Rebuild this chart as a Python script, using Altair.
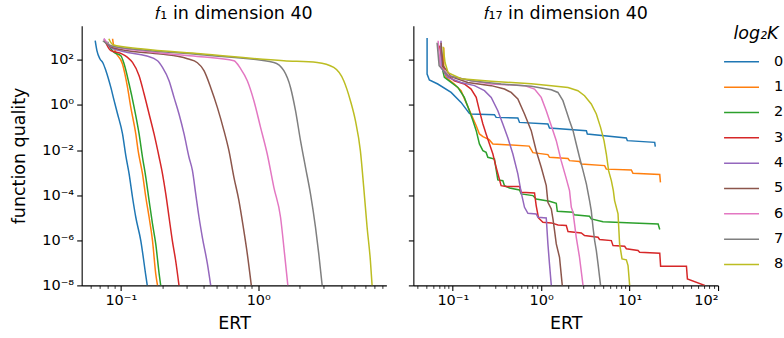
import altair as alt
import pandas as pd

K_LEVELS = ["0", "1", "2", "3", "4", "5", "6", "7", "8"]
COLORS = ["#1f77b4", "#ff7f0e", "#2ca02c", "#d62728", "#9467bd",
          "#8c564b", "#e377c2", "#7f7f7f", "#bcbd22"]

# ---------------- f1 in dimension 40 ----------------
f1_k0_ert = [0.0651, 0.0670, 0.0704, 0.0740, 0.0779, 0.0846, 0.0894, 0.0946, 0.1028, 0.1087, 0.1149, 0.1216, 0.1285, 0.1397, 0.152, 0.1557]
f1_k0_fq = [706, 255, 112, 74.8, 33.1, 6.0, 1.55, 0.41, 0.0535, 5.7e-3, 8.8e-4, 8.1e-5, 1.05e-5, 9.7e-7, 2.7e-8, 1e-8]
f1_k1_ert = [0.0871, 0.0889, 0.0920, 0.1028, 0.1119, 0.1182, 0.1285, 0.1336, 0.1438, 0.152, 0.1606, 0.170, 0.1795, 0.1849]
f1_k1_fq = [866, 383, 214, 65.6, 6.0, 0.783, 0.0519, 9.4e-3, 8.8e-4, 8.1e-5, 1.05e-5, 9.7e-7, 3.25e-8, 1e-8]
f1_k2_ert = [0.080, 0.0846, 0.0894, 0.1, 0.1057, 0.1149, 0.125, 0.1358, 0.1438, 0.152, 0.1606, 0.170, 0.1795, 0.190, 0.195]
f1_k2_fq = [638, 312, 214, 153, 65.6, 8.5, 0.783, 0.0519, 4.8e-3, 6.2e-4, 5.75e-5, 5.3e-6, 6.9e-7, 3.25e-8, 1e-8]
f1_k3_ert = [0.0765, 0.0846, 0.1, 0.1119, 0.1216, 0.1358, 0.1477, 0.1606, 0.1745, 0.190, 0.201, 0.2123, 0.2243, 0.237, 0.2505, 0.265]
f1_k3_fq = [706, 255, 193, 128.5, 77.1, 19.9, 3.07, 0.40, 0.0519, 4.8e-3, 8.8e-4, 1.14e-4, 1.05e-5, 9.7e-7, 1.27e-7, 1e-8]
f1_k4_ert = [0.0753, 0.0846, 0.1119, 0.152, 0.1849, 0.201, 0.2243, 0.2438, 0.265, 0.2884, 0.3133, 0.332, 0.3506, 0.3706, 0.3918, 0.4266, 0.4508]
f1_k4_fq = [866, 346, 214, 153, 91.8, 46.3, 11.9, 2.17, 0.40, 0.0519, 4.8e-3, 1.22e-3, 1.14e-4, 1.05e-5, 1.36e-6, 9.0e-8, 1e-8]
f1_k5_ert = [0.0753, 0.0846, 0.1119, 0.1952, 0.305, 0.3606, 0.4027, 0.4503, 0.5037, 0.5626, 0.6116, 0.665, 0.723, 0.778, 0.832, 0.890]
f1_k5_fq = [706, 383, 255, 182, 112, 74.8, 33.1, 6.0, 0.783, 0.0727, 9.4e-3, 6.2e-4, 5.75e-5, 3.8e-6, 2.5e-7, 1e-8]
f1_k6_ert = [0.0753, 0.0846, 0.1397, 0.2185, 0.381, 0.665, 0.744, 0.832, 0.929, 1.039, 1.162, 1.298, 1.452, 1.553, 1.641]
f1_k6_fq = [866, 424, 255, 187, 138, 91.8, 40.6, 11.9, 1.55, 0.102, 6.7e-3, 2.23e-4, 1.05e-5, 2.5e-7, 1e-8]
f1_k7_ert = [0.074, 0.0846, 0.1397, 0.381, 1.298, 1.535, 1.716, 1.866, 2.029, 2.206, 2.398, 2.607, 2.755, 2.916]
f1_k7_fq = [706, 424, 282, 169, 77.1, 33.1, 6.0, 0.559, 0.0262, 1.72e-3, 1.14e-4, 3.8e-6, 2.5e-7, 1e-8]
f1_k8_ert = [0.0818, 0.0875, 0.1397, 0.381, 1.535, 2.683, 3.54, 4.185, 4.68, 5.09, 5.53, 5.85, 6.19, 6.54, 6.73]
f1_k8_fq = [866, 470, 312, 187, 91.8, 77.1, 46.3, 11.9, 1.55, 0.2015, 9.4e-3, 2.23e-4, 3.8e-6, 1.27e-7, 1e-8]

# ---------------- f17 in dimension 40 ----------------
f17_k0_ert = [0.0512, 0.0512, 0.0543, 0.0676, 0.0957, 0.124, 0.154, 0.161, 0.296, 0.309, 0.544, 0.568, 1.19, 1.24, 3.24, 3.32, 9.18, 9.42, 19.2, 19.5]
f17_k0_fq = [930, 23.6, 12.8, 8.5, 3.6, 1.30, 0.425, 0.40, 0.37, 0.282, 0.265, 0.169, 0.144, 0.0957, 0.0727, 0.0519, 0.0345, 0.0262, 0.022, 0.0142]
f17_k1_ert = [0.0791, 0.0791, 0.0839, 0.104, 0.124, 0.141, 0.161, 0.184, 0.200, 0.219, 0.258, 0.284, 0.731, 0.805, 1.19, 1.24, 2.01, 2.09, 2.71, 2.84, 5.21, 5.45, 10.45, 10.9, 21.9, 22.3]
f17_k1_fq = [356, 46.3, 16.7, 8.5, 4.3, 1.30, 0.40, 0.121, 0.0519, 0.0394, 0.029, 0.0187, 0.0150, 7.7e-3, 6.3e-3, 4.8e-3, 4.2e-3, 3.4e-3, 3.1e-3, 2.43e-3, 2.05e-3, 1.43e-3, 1.32e-3, 9.3e-4, 8.2e-4, 3.7e-4]
f17_k2_ert = [0.0736, 0.0770, 0.0803, 0.0957, 0.114, 0.135, 0.154, 0.169, 0.184, 0.200, 0.219, 0.238, 0.249, 0.296, 0.323, 0.368, 0.384, 0.438, 0.568, 0.593, 0.805, 0.877, 1.24, 1.48, 1.52, 2.29, 2.35, 3.52, 3.68, 5.00, 10.9, 21.0, 21.9]
f17_k2_fq = [424, 33.1, 16.7, 10.0, 6.0, 2.17, 0.559, 0.201, 0.0727, 0.0187, 9.4e-3, 7.9e-3, 4.8e-3, 4.0e-3, 4.75e-4, 4.4e-4, 2.65e-4, 2.1e-4, 1.71e-4, 1.14e-4, 9.6e-5, 6.8e-5, 5.4e-5, 4.4e-5, 1.93e-5, 1.74e-5, 1.34e-5, 1.16e-5, 8.9e-6, 6.7e-6, 5.9e-6, 5.3e-6, 3.0e-6]
f17_k3_ert = [0.0705, 0.0803, 0.104, 0.135, 0.161, 0.184, 0.200, 0.219, 0.238, 0.260, 0.284, 0.309, 0.352, 0.402, 0.568, 0.593, 0.840, 0.877, 0.931, 1.045, 1.30, 1.55, 1.92, 2.01, 2.84, 3.09, 4.39, 4.57, 6.21, 6.49, 8.78, 9.18, 12.45, 12.97, 21.9, 22.4, 43.9, 45.0, 70.7]
f17_k3_fq = [424, 27.0, 11.9, 8.5, 5.1, 2.17, 0.559, 0.144, 0.0519, 0.0187, 6.7e-3, 1.72e-3, 2.65e-4, 2.4e-4, 2.4e-4, 1.34e-4, 1.26e-4, 3.45e-5, 9.8e-6, 6.3e-6, 5.9e-6, 4.8e-6, 4.5e-6, 2.43e-6, 2.13e-6, 1.62e-6, 1.36e-6, 1.08e-6, 9.7e-7, 5.8e-7, 5.4e-7, 4.2e-7, 3.5e-7, 2.94e-7, 2.66e-7, 7.1e-8, 7.1e-8, 1.95e-8, 1e-8]
f17_k4_ert = [0.0736, 0.0736, 0.0878, 0.124, 0.176, 0.228, 0.272, 0.323, 0.368, 0.420, 0.478, 0.544, 0.593, 0.647, 0.707, 0.877, 0.918, 1.14, 1.19, 1.24, 1.30]
f17_k4_fq = [706, 46.3, 16.7, 10.0, 7.2, 4.3, 2.17, 0.559, 0.144, 0.0345, 6.7e-3, 8.8e-4, 1.34e-4, 2.9e-5, 1.57e-5, 1.48e-5, 1.05e-5, 9.8e-6, 6.9e-7, 9.0e-8, 1e-8]
f17_k5_ert = [0.0736, 0.0777, 0.0957, 0.148, 0.272, 0.384, 0.457, 0.544, 0.647, 0.771, 0.877, 1.0, 1.14, 1.19, 1.30, 1.357, 1.415, 1.48, 1.61, 1.73]
f17_k5_fq = [576, 55, 17.9, 10.0, 7.2, 5.1, 3.6, 1.85, 0.40, 0.0727, 9.4e-3, 1.72e-3, 2.65e-4, 4.8e-5, 2.47e-5, 8.9e-6, 2.7e-6, 6.9e-7, 1.77e-7, 1e-8]
f17_k6_ert = [0.0682, 0.0718, 0.0908, 0.161, 0.272, 0.647, 0.840, 1.0, 1.14, 1.30, 1.48, 1.68, 1.92, 2.09, 2.19, 2.29, 2.38, 2.49, 2.71, 2.97]
f17_k6_fq = [706, 55, 19.9, 12.0, 8.5, 7.2, 5.1, 2.17, 0.559, 0.121, 0.0262, 3.4e-3, 5.4e-4, 1.6e-4, 2.9e-5, 1.74e-5, 5.3e-6, 1.36e-6, 1.77e-7, 1e-8]
f17_k7_ert = [0.0664, 0.070, 0.0885, 0.161, 0.352, 0.771, 1.30, 1.545, 1.76, 1.92, 2.09, 2.29, 2.49, 2.71, 2.97, 3.24, 3.52, 3.68, 3.85, 4.02, 4.20, 4.39, 4.69]
f17_k7_fq = [576, 55, 19.9, 12.0, 8.5, 6.8, 4.76, 3.6, 1.55, 0.559, 0.201, 0.0727, 0.0187, 4.8e-3, 1.22e-3, 3.2e-4, 5.75e-5, 2.07e-5, 3.8e-6, 9.7e-7, 3.5e-7, 9.0e-8, 1e-8]
f17_k8_ert = [0.0777, 0.0818, 0.0885, 0.124, 0.272, 0.771, 1.30, 2.01, 2.60, 3.09, 3.68, 4.20, 4.69, 5.13, 5.45, 5.78, 6.21, 6.54, 6.76, 7.39, 7.70, 8.20, 9.18, 9.59, 10.0]
f17_k8_fq = [383, 74.8, 27.0, 14.6, 11.3, 8.8, 7.2, 6.0, 4.3, 2.58, 1.11, 0.40, 0.102, 0.0262, 6.7e-3, 1.22e-3, 4.4e-4, 1.6e-4, 5.75e-5, 1.48e-5, 6.9e-7, 1.5e-7, 1.36e-7, 7.6e-8, 1e-8]

# axis ticks
Y_MAJOR = [1e-8, 1e-6, 1e-4, 1e-2, 1, 100]
F1_X_MAJOR = [0.1, 1]
F1_X_MINOR = [0.06, 0.07, 0.08, 0.09, 0.2, 0.3, 0.4, 0.5, 0.6, 0.7, 0.8, 0.9, 2, 3, 4, 5, 6, 7, 8]
F17_X_MAJOR = [0.1, 1, 10, 100]
F17_X_MINOR = [0.04, 0.05, 0.06, 0.07, 0.08, 0.09, 0.2, 0.3, 0.4, 0.5, 0.6, 0.7, 0.8, 0.9,
               2, 3, 4, 5, 6, 7, 8, 9, 20, 30, 40, 50, 60, 70, 80, 90]

series = [
    ("f1", "0", f1_k0_ert, f1_k0_fq), ("f1", "1", f1_k1_ert, f1_k1_fq),
    ("f1", "2", f1_k2_ert, f1_k2_fq), ("f1", "3", f1_k3_ert, f1_k3_fq),
    ("f1", "4", f1_k4_ert, f1_k4_fq), ("f1", "5", f1_k5_ert, f1_k5_fq),
    ("f1", "6", f1_k6_ert, f1_k6_fq), ("f1", "7", f1_k7_ert, f1_k7_fq),
    ("f1", "8", f1_k8_ert, f1_k8_fq),
    ("f17", "0", f17_k0_ert, f17_k0_fq), ("f17", "1", f17_k1_ert, f17_k1_fq),
    ("f17", "2", f17_k2_ert, f17_k2_fq), ("f17", "3", f17_k3_ert, f17_k3_fq),
    ("f17", "4", f17_k4_ert, f17_k4_fq), ("f17", "5", f17_k5_ert, f17_k5_fq),
    ("f17", "6", f17_k6_ert, f17_k6_fq), ("f17", "7", f17_k7_ert, f17_k7_fq),
    ("f17", "8", f17_k8_ert, f17_k8_fq),
]
rows = []
for panel, k, xs, ys in series:
    for i, (xv, yv) in enumerate(zip(xs, ys)):
        rows.append({"panel": panel, "K": k, "i": i, "ert": xv, "fq": yv})
df = pd.DataFrame(rows)

SUP = {-8: "⁻⁸", -6: "⁻⁶", -4: "⁻⁴", -2: "⁻²", -1: "⁻¹", 0: "⁰", 1: "¹", 2: "²"}


def pow10_expr(exps):
    expr = "''"
    for e in reversed(exps):
        expr = f"(round(log(datum.value)/LN10) == {e} ? '10{SUP[e]}' : {expr})"
    return expr


FONT = "DejaVu Sans"

legend = alt.Legend(
    title="log₂K", orient="none", legendX=648, legendY=-0.75,
    symbolType="M-1.5,0H1.5", symbolSize=544, symbolStrokeWidth=1.5,
    labelFontSize=14.5, labelFont=FONT, labelColor="black", labelOffset=20,
    titleFontSize=17.5, titleFont=FONT, titleFontStyle="italic", titleFontWeight="normal",
    titleColor="black", titleAnchor="middle", titlePadding=7, rowPadding=6.35, padding=0,
)


def make_panel(name, title, xdomain, xmajor, xminor, show_y, interp):
    base = alt.Chart(df).transform_filter(alt.datum.panel == name)
    yaxis_kw = dict(values=Y_MAJOR, tickSize=5, grid=False)
    if show_y:
        yaxis_kw.update(labelExpr=pow10_expr([-8, -6, -4, -2, 0, 2]), title="function quality", titlePadding=13.5)
    else:
        yaxis_kw.update(labels=False, title=None)
    y = alt.Y("fq:Q", scale=alt.Scale(type="log", domain=[1e-8, 3300], nice=False),
              axis=alt.Axis(**yaxis_kw))
    xscale = alt.Scale(type="log", domain=xdomain, nice=False)
    color = alt.Color("K:N", scale=alt.Scale(domain=K_LEVELS, range=COLORS), legend=legend)
    lines = base.mark_line(strokeWidth=1.5, clip=True, interpolate=interp).encode(
        x=alt.X("ert:Q", scale=xscale,
                axis=alt.Axis(values=xmajor, labelExpr=pow10_expr([-1, 0, 1, 2]),
                              title="ERT", tickSize=5, grid=False, orient="bottom", titlePadding=8)),
        y=y, color=color, order="i:Q",
    )
    minor = base.mark_line(strokeOpacity=0, clip=True).encode(
        x=alt.X("ert:Q", scale=xscale,
                axis=alt.Axis(values=xminor, labels=False, tickSize=3, tickWidth=0.8,
                              domain=False, title=None, grid=False, orient="bottom")),
        y=y, color=color, order="i:Q",
    )
    return alt.layer(lines, minor).resolve_axis(x="independent").properties(
        width=305, height=260,
        title=alt.TitleParams(text=title, offset=3),
    )


left = make_panel("f1", "𝑓₁ in dimension 40", [0.0519, 8.55], F1_X_MAJOR, F1_X_MINOR, True, "monotone")
right = make_panel("f17", "𝑓₁₇ in dimension 40", [0.0358, 100.0], F17_X_MAJOR, F17_X_MINOR, False, "linear")

chart = alt.hconcat(left, right, spacing=21).properties(
    padding={"left": 9.75, "top": 4.5, "right": 0, "bottom": 0}
).configure_axis(
    labelFont=FONT, titleFont=FONT, labelFontSize=14.5, titleFontSize=17.5,
    titleFontWeight="normal", labelColor="black", titleColor="black",
    domainColor="black", tickColor="black", domainWidth=1.1, tickWidth=1.1, labelPadding=3,
).configure_view(stroke=None).configure_title(
    font=FONT, fontSize=17.5, fontWeight="normal", color="black",
)

chart.save("out.html", embed_options={"renderer": "svg", "actions": False})
